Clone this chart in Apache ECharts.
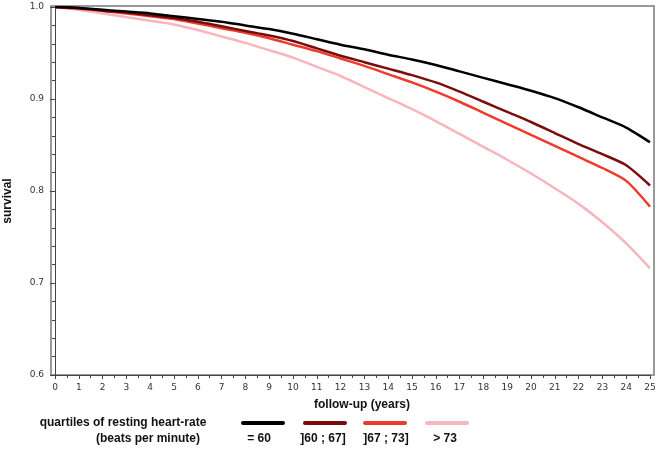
<!DOCTYPE html>
<html>
<head>
<meta charset="utf-8">
<script src="https://cdn.jsdelivr.net/npm/echarts@6/dist/echarts.min.js"></script>
<style>
html,body{margin:0;padding:0;background:#fff;}
#chart{width:661px;height:449px;}
</style>
</head>
<body>
<div id="chart"></div>
<script>
// ---- data ----
const years = [0,1,2,3,4,5,6,7,8,9,10,11,12,13,14,15,16,17,18,19,20,21,22,23,24,25];
const q1Values = [1.000,0.999,0.997,0.995,0.993,0.990,0.987,0.984,0.980,0.976,0.971,0.965,0.959,0.954,0.948,0.943,0.937,0.930,0.923,0.916,0.909,0.901,0.891,0.880,0.869,0.853];
const q2Values = [1.000,0.999,0.996,0.994,0.991,0.988,0.984,0.979,0.974,0.969,0.963,0.955,0.947,0.940,0.933,0.926,0.918,0.908,0.897,0.886,0.875,0.863,0.851,0.840,0.828,0.806];
const q3Values = [1.000,0.998,0.996,0.993,0.990,0.987,0.982,0.977,0.972,0.966,0.959,0.952,0.944,0.936,0.927,0.918,0.908,0.897,0.885,0.873,0.861,0.849,0.837,0.825,0.811,0.783];
const q4Values = [1.000,0.997,0.993,0.989,0.985,0.981,0.975,0.968,0.961,0.953,0.945,0.935,0.925,0.913,0.901,0.889,0.876,0.862,0.848,0.834,0.819,0.803,0.786,0.766,0.743,0.716];
const seriesNames = ['= 60', ']60 ; 67]', ']67 ; 73]', '> 73'];
const seriesColors = ['#000000', '#7b0c0c', '#ee3b2b', '#f7b5bd'];
const xTickLabels = years.map(String);
const yTickLabels = ['0.6','0.7','0.8','0.9','1.0'];
const xTitle = 'follow-up (years)';
const yTitle = 'survival';
const legendTitle1 = 'quartiles of resting heart-rate';
const legendTitle2 = '(beats per minute)';

const allValues = [q1Values, q2Values, q3Values, q4Values];

const chart = echarts.init(document.getElementById('chart'), null, {renderer: 'canvas'});

const labelFont = {fontFamily: 'DejaVu Sans', fontSize: 9, color: '#333'};
const boldFont = 'bold 12px "Liberation Sans", Arial, sans-serif';

const legendLineX = [243, 305, 365, 427];
const legendLabelX = [259, 323, 386, 445];

const graphics = [
  {type: 'rect', z: 0, silent: true, shape: {x: 51, y: 6, width: 603, height: 369},
   style: {fill: 'none', stroke: '#7a7a7a', lineWidth: 1.5}},
  {type: 'text', x: 8, y: 201, rotation: Math.PI / 2,
   style: {text: yTitle, font: boldFont, fill: '#111', align: 'center', verticalAlign: 'middle'}},
  {type: 'text', x: 362, y: 405,
   style: {text: xTitle, font: boldFont, fill: '#111', align: 'center', verticalAlign: 'middle'}},
  {type: 'text', x: 123, y: 423,
   style: {text: legendTitle1, font: boldFont, fill: '#111', align: 'center', verticalAlign: 'middle'}},
  {type: 'text', x: 148, y: 439,
   style: {text: legendTitle2, font: boldFont, fill: '#111', align: 'center', verticalAlign: 'middle'}}
];
seriesNames.forEach((n, i) => {
  graphics.push({type: 'line', shape: {x1: legendLineX[i], y1: 423, x2: legendLineX[i] + 40, y2: 423},
    style: {stroke: seriesColors[i], lineWidth: 4, lineCap: 'round'}});
  graphics.push({type: 'text', x: legendLabelX[i], y: 439,
    style: {text: n, font: boldFont, fill: '#111', align: 'center', verticalAlign: 'middle'}});
});

const option = {
  animation: false,
  backgroundColor: '#fff',
  grid: {left: 55, right: 11, top: 7, bottom: 74, containLabel: false},
  xAxis: {
    type: 'value', min: 0, max: 25, interval: 1,
    axisLine: {show: true, onZero: false, lineStyle: {color: '#444', width: 1}},
    axisTick: {show: true, length: 4, lineStyle: {color: '#444'}},
    minorTick: {show: true, splitNumber: 2, length: 3, lineStyle: {color: '#444'}},
    axisLabel: {...labelFont, margin: 8, formatter: v => xTickLabels[years.indexOf(v)] ?? ''},
    splitLine: {show: false}
  },
  yAxis: {
    type: 'value', min: 0.6, max: 1.0, interval: 0.1, offset: 4,
    axisLine: {show: true, lineStyle: {color: '#444', width: 1}},
    axisTick: {show: true, length: 5, lineStyle: {color: '#444'}},
    minorTick: {show: true, splitNumber: 5, length: 3, lineStyle: {color: '#444'}},
    axisLabel: {...labelFont, margin: 7, formatter: v => {
      const s = v.toFixed(1); return yTickLabels.includes(s) ? s : '';
    }},
    splitLine: {show: false}
  },
  series: seriesNames.map((n, i) => ({
    name: n, type: 'line', showSymbol: false, symbol: 'none',
    smooth: 0.25,
    data: years.map((y, k) => [y, allValues[i][k]]),
    lineStyle: {color: seriesColors[i], width: 2.5},
    itemStyle: {color: seriesColors[i]},
    z: 10 - i
  })),
  graphic: graphics
};
chart.setOption(option);
</script>
</body>
</html>
